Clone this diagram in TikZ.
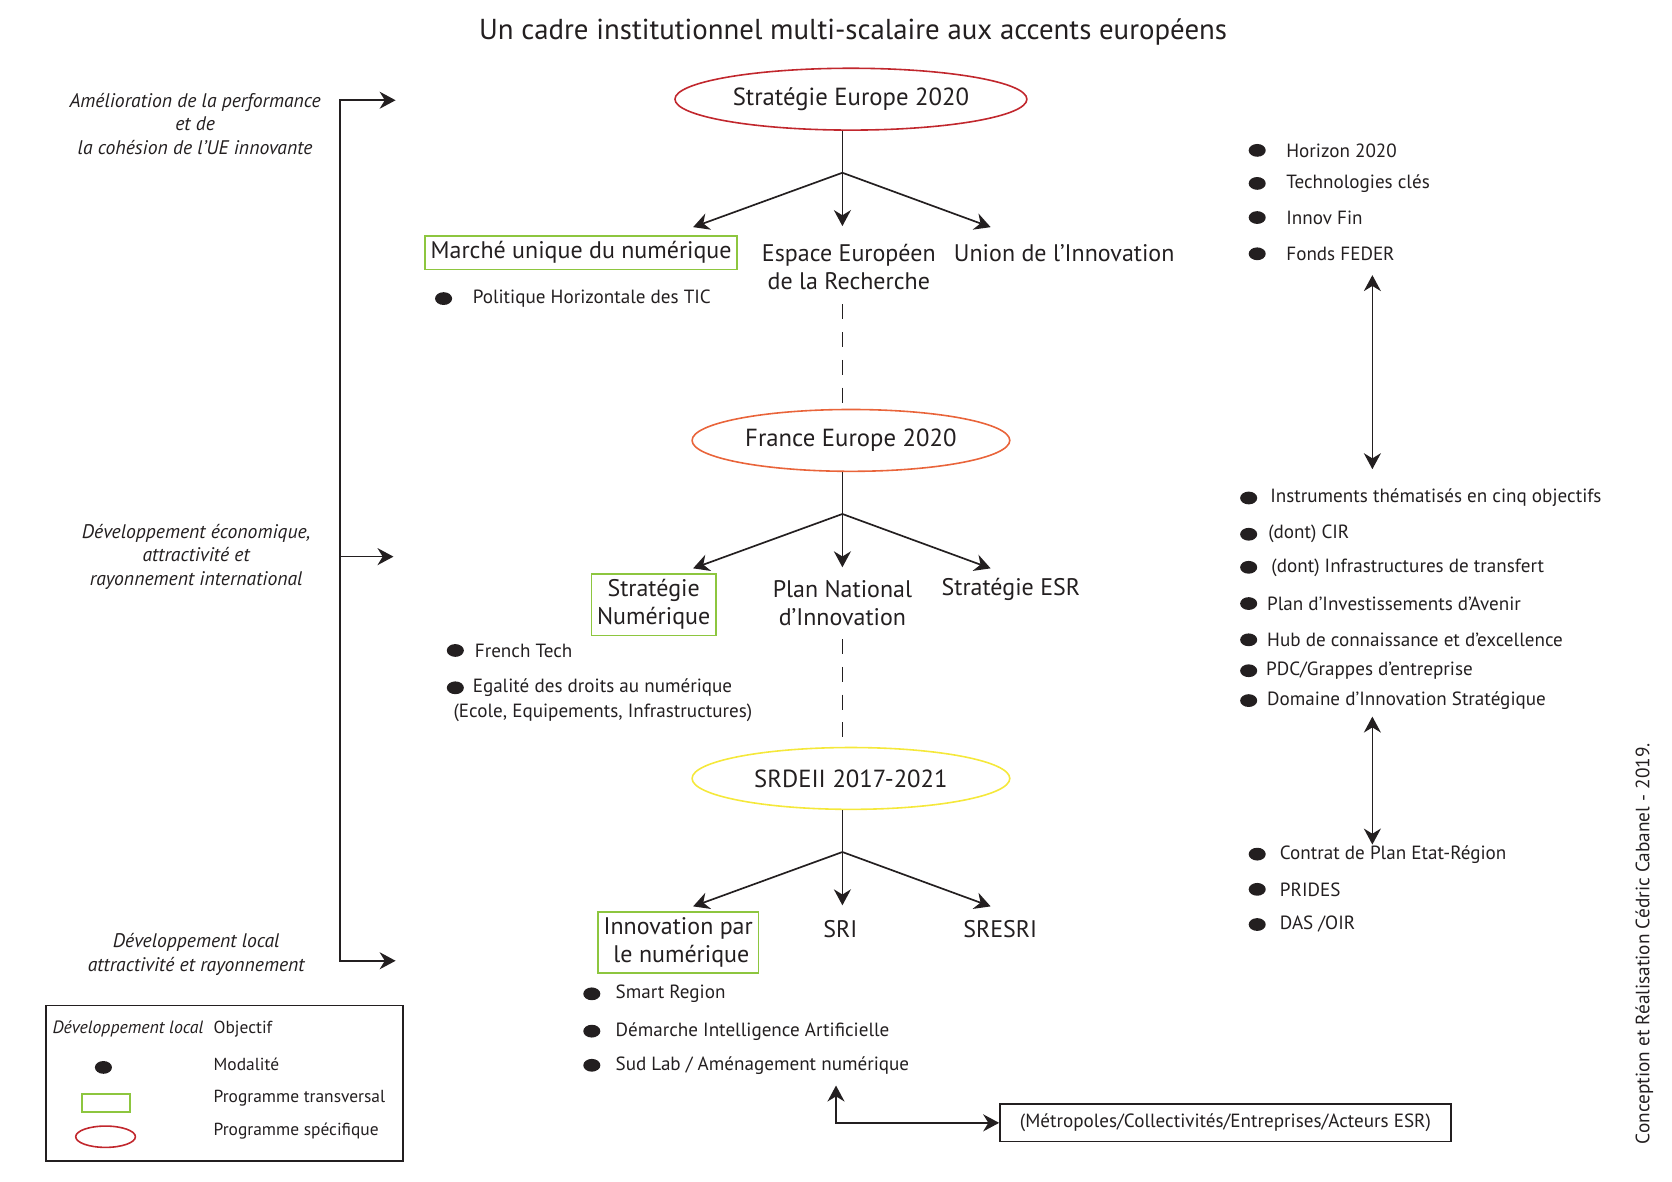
\documentclass[tikz,border=0pt]{standalone}
\usepackage{fontspec}
\setmainfont{PT Sans}
\usetikzlibrary{shapes.geometric}
\usetikzlibrary{arrows.meta}
\usetikzlibrary{calc}

\definecolor{encre}{HTML}{231F20}
\definecolor{rouge}{HTML}{C1272D}
\definecolor{orange}{HTML}{E9643A}
\definecolor{jaune}{HTML}{F5E83A}
\definecolor{vert}{HTML}{8DC63F}

\begin{document}
\begin{tikzpicture}[x=0.02cm,y=-0.02cm,every node/.append style={text=encre}]

        \useasboundingbox (0,0) rectangle (1568,1107.6);

        \tikzstyle{prog}=[draw,ellipse,line width=0.85pt,minimum width=5.96cm,minimum height=1.16cm,font=\fontsize{13.2}{15}\selectfont]
        \tikzstyle{transv}=[draw=vert,line width=0.85pt,align=center,inner xsep=3pt,inner ysep=3pt,font=\fontsize{12.8}{15}\selectfont]
        \tikzstyle{axe}=[align=center,inner sep=1pt,font=\fontsize{12.8}{15}\selectfont]
        \tikzstyle{puce}=[fill=encre,ellipse,minimum width=0.32cm,minimum height=0.24cm,inner sep=0pt]
        \tikzstyle{item}=[anchor=west,inner sep=0pt,font=\fontsize{10.2}{12}\selectfont]
        \tikzstyle{leg}=[anchor=west,inner sep=0pt,font=\fontsize{9.3}{11}\selectfont]
        \tikzstyle{obj}=[align=center,inner sep=0pt,font=\fontsize{10.5}{12.6}\selectfont\itshape]
        \tikzstyle{fleche}=[draw=encre,line width=0.9pt,-{Stealth[length=0.3cm,width=0.32cm]}]
        \tikzstyle{fleches}=[draw=encre,line width=0.9pt,{Stealth[length=0.3cm,width=0.32cm]}-{Stealth[length=0.3cm,width=0.32cm]}]
        \tikzstyle{tirets}=[draw=encre,line width=0.8pt,dash pattern=on 0.28cm off 0.24cm]

        \node[font=\fontsize{15.4}{17}\selectfont] (titre) at (800,30) {Un cadre institutionnel multi-scalaire aux accents européens};

        % programmes specifiques
        \foreach \n/\y/\c/\t in {1/93/rouge/Stratégie Europe 2020,2/413/orange/France Europe 2020,3/730/jaune/SRDEII 2017-2021} {
            \node[prog,draw=\c] (e_\n) at (798,\y) {\t};
            \coordinate (b_\n) at (790,\y+69);
            \coordinate (g_\n) at (650,\y+120);
            \coordinate (m_\n) at (790,\y+119);
            \coordinate (d_\n) at (929,\y+120);
            \draw[encre,line width=0.9pt] (e_\n.south -| b_\n) -- (b_\n);
            \draw[fleche] (b_\n) -- (g_\n);
            \draw[fleche] (b_\n) -- (m_\n);
            \draw[fleche] (b_\n) -- (d_\n);
        }

        \node[transv] (t_1) at (545,237) {Marché unique du numérique};
        \node[axe] (c_1) at (796,250) {Espace Européen\\de la Recherche};
        \node[axe] (r_1) at (998,237) {Union de l’Innovation};

        \node[transv] (t_2) at (613,567) {Stratégie\\Numérique};
        \node[axe] (c_2) at (790,566) {Plan National\\d’Innovation};
        \node[axe] (r_2) at (948,553) {Stratégie ESR};

        \node[transv] (t_3) at (636,884) {Innovation par\\\ le numérique};
        \node[axe] (c_3) at (788,871) {SRI};
        \node[axe] (r_3) at (938,871) {SRESRI};

        \draw[tirets] (b_1 |- c_1.south) ++(0,12) -- (b_1 |- e_2.north);
        \draw[tirets] (b_2 |- c_2.south) ++(0,10) -- (b_2 |- e_3.north);

        % modalites
        \foreach \k/\bx/\tx/\y/\t in {
            1/416/443/280/Politique Horizontale des TIC,
            2/427/445/610/French Tech,
            3/427/443/645/Egalité des droits au numérique,
            4/555/577/932/Smart Region,
            5/555/577/967/Démarche Intelligence Artificielle,
            6/555/577/999/{Sud Lab / Aménagement numérique},
            7/1179/1206/141/Horizon 2020,
            8/1179/1206/172/Technologies clés,
            9/1179/1206/204/Innov Fin,
            10/1179/1206/238/Fonds FEDER,
            11/1171/1191/467/Instruments thématisés en cinq objectifs,
            12/1171/1189/501/(dont) CIR,
            13/1171/1192/532/(dont) Infrastructures de transfert,
            14/1171/1188/566/Plan d’Investissements d’Avenir,
            15/1171/1188/600/Hub de connaissance et d’excellence,
            16/1171/1187/629/{PDC/Grappes d’entreprise},
            17/1171/1188/657/Domaine d’Innovation Stratégique,
            18/1179/1200/801/Contrat de Plan Etat-Région,
            19/1179/1200/834/PRIDES,
            20/1179/1200/867/{DAS /OIR}} {
            \node[puce] (p_\k) at (\bx,\y) {};
            \node[item] (l_\k) at (\tx,\y) {\t};
        }
        \node[item] (l_3b) at (425,668) {(Ecole, Equipements, Infrastructures)};

        \coordinate (h_1) at (1287,258);
        \coordinate (h_2) at (1287,440);
        \coordinate (h_3) at (1287,672);
        \coordinate (h_4) at (1287,792);
        \draw[fleches] (h_1) -- (h_2);
        \draw[fleches] (h_3) -- (h_4);

        \node[item,draw=encre,line width=0.85pt,minimum width=8.46cm,minimum height=0.7cm,inner xsep=5pt] (acteurs) at (937,1053) {(Métropoles/Collectivités/Entreprises/Acteurs ESR)};
        \coordinate (u) at (784,1018);
        \draw[fleches] (u) |- (acteurs.west);

        % objectifs
        \node[obj] (o_1) at (183,116) {Amélioration de la performance\\et de\\la cohésion de l’UE innovante};
        \node[obj] (o_2) at (184,522) {Développement économique,\\attractivité et\\rayonnement international};
        \node[obj] (o_3) at (184,895) {Développement local\\attractivité et rayonnement};

        \coordinate (k_1) at (319,94);
        \coordinate (k_2) at (319,522);
        \coordinate (k_3) at (319,901);
        \coordinate (a_1) at (371,94);
        \coordinate (a_2) at (369,522);
        \coordinate (a_3) at (371,901);
        \draw[fleches] (a_1) -- (k_1) -- (k_3) -- (a_3);
        \draw[fleche] (k_2) -- (a_2);

        % legende
        \draw[encre,line width=0.85pt] (43,943) rectangle (378,1089);
        \node[leg,font=\fontsize{9.5}{11}\selectfont\itshape] (lg_1) at (49,965) {Développement local};
        \node[leg] (lg_1t) at (200,965) {Objectif};
        \node[puce] (lg_2) at (97,1001) {};
        \node[leg] (lg_2t) at (200,998) {Modalité};
        \node[draw=vert,line width=0.85pt,minimum width=0.9cm,minimum height=0.34cm,inner sep=0pt] (lg_3) at (99.5,1034.5) {};
        \node[leg] (lg_3t) at (200,1030) {Programme transversal};
        \node[draw=rouge,ellipse,line width=0.85pt,minimum width=1.12cm,minimum height=0.4cm,inner sep=0pt] (lg_4) at (99,1066) {};
        \node[leg] (lg_4t) at (200,1061) {Programme spécifique};

        \node[rotate=90,font=\fontsize{10.3}{12}\selectfont] (credit) at (1542,885) {Conception et Réalisation Cédric Cabanel - 2019.};

    \end{tikzpicture}
\end{document}
